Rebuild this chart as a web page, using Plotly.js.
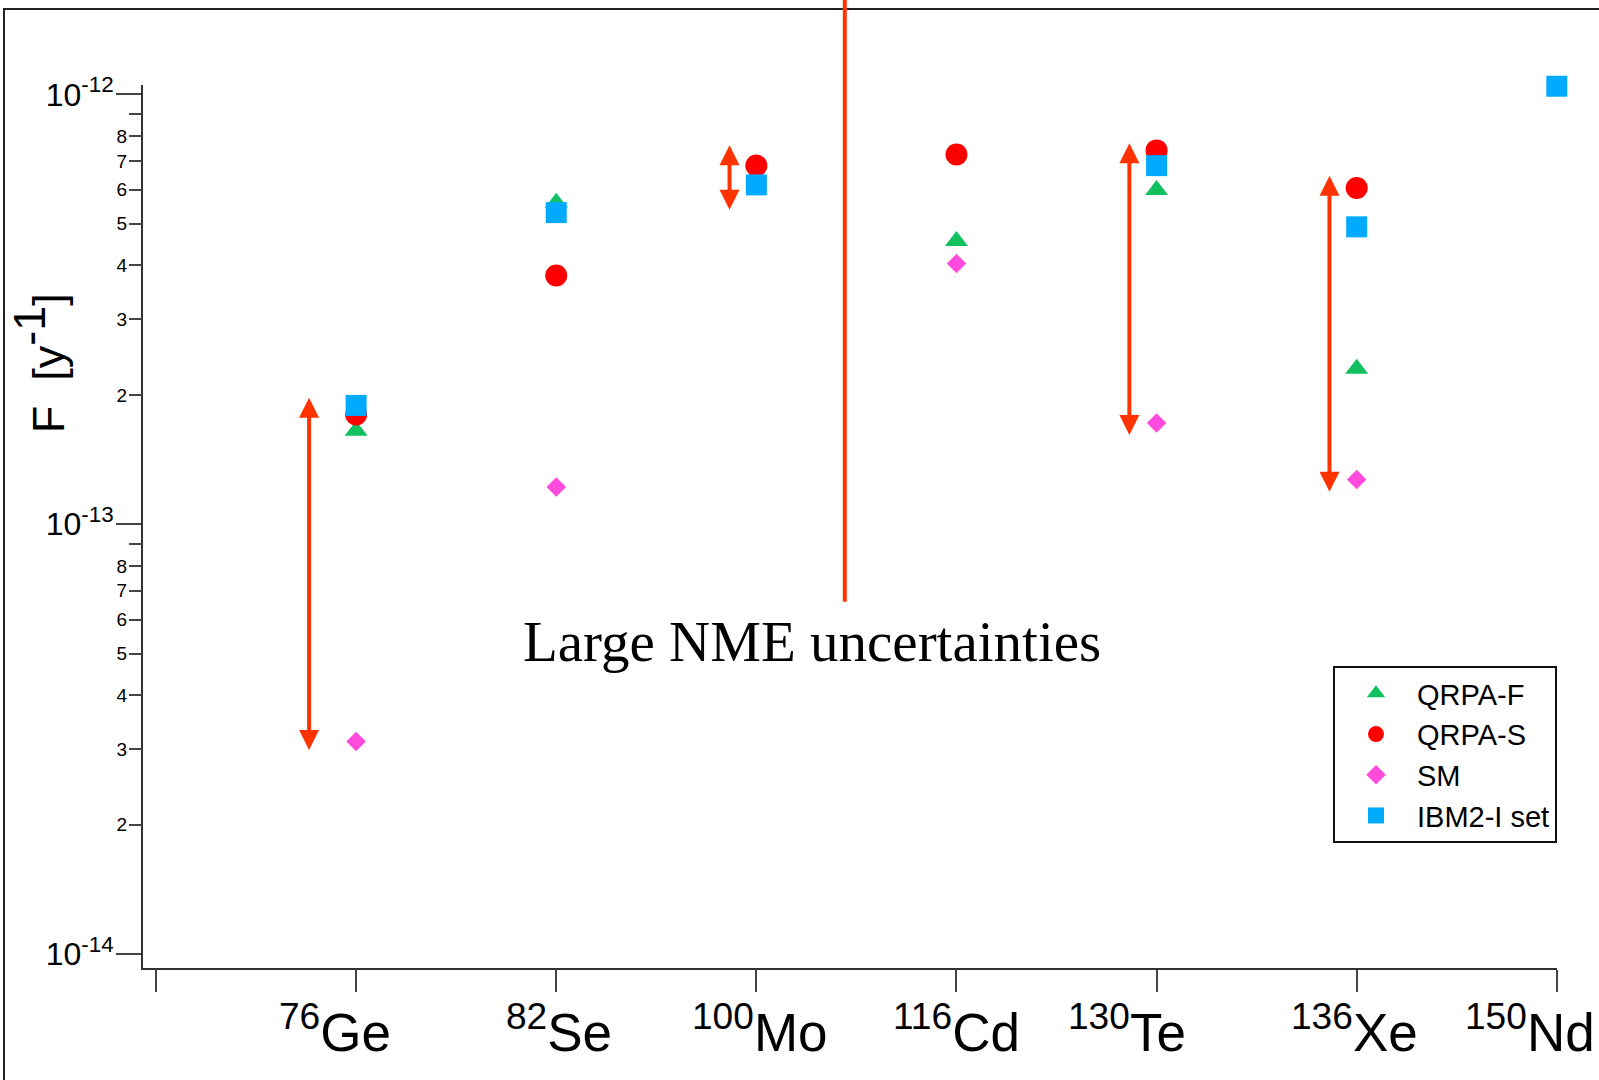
<!DOCTYPE html>
<html><head><meta charset="utf-8">
<script src="https://cdn.plot.ly/plotly-3.0.1.min.js"></script>
<style>html,body{margin:0;padding:0;background:#fff}#chart{width:1599px;height:1080px}</style>
</head><body><div id="chart"></div>
<script>
// ---- data ----
const massNumbers = ['76', '82', '100', '116', '130', '136', '150'];
const elements    = ['Ge', 'Se', 'Mo', 'Cd', 'Te', 'Xe', 'Nd'];

const qrpaF = [1.65e-13, 5.6e-13, null, 4.56e-13, 5.99e-13, 2.30e-13, null];
const qrpaS = [1.80e-13, 3.79e-13, 6.83e-13, 7.25e-13, 7.41e-13, 6.06e-13, null];
const shellModel = [3.12e-14, 1.22e-13, null, 4.04e-13, 1.72e-13, 1.27e-13, null];
const ibm2 = [1.89e-13, 5.31e-13, 6.16e-13, null, 6.83e-13, 4.92e-13, 1.045e-12];

// double-headed uncertainty arrows: x position (category units), low and high tips
const arrowX    = [0.765, 2.866, 4.864, 5.864];
const arrowLow  = [2.96e-14, 5.35e-13, 1.60e-13, 1.18e-13];
const arrowHigh = [1.97e-13, 7.62e-13, 7.70e-13, 6.47e-13];

// vertical marker line and note
const noteLineX = 3.442;
const noteLineLow = 6.6e-14;
const noteText = 'Large NME uncertainties';
const yTitle = 'F\u00a0 [y<sup><span style="font-size:45px">-1</span></sup>]';

const yMajorVals = [1e-14, 1e-13, 1e-12];
const yMinorVals = [2e-14,3e-14,4e-14,5e-14,6e-14,7e-14,8e-14,9e-14,
                    2e-13,3e-13,4e-13,5e-13,6e-13,7e-13,8e-13,9e-13];

// ---- styling ----
const XR = [-0.065, 7.001];
const YR = [-14.0326, -11.978];
const labelShift = [-21, 3, 4, 0, -30, -2, -27]; // px nudges of the isotope labels
const RED = '#ff3300';
const FONT = 'Liberation Sans, Arial, Helvetica, sans-serif';

const xPaper = v => (v - XR[0]) / (XR[1] - XR[0]);
const yPaper = v => (Math.log10(v) - YR[0]) / (YR[1] - YR[0]);

const xs = elements.map((e, i) => i + 1);

function mk(name, y, symbol, color, size) {
  return {
    type: 'scatter', mode: 'markers', name: name, x: xs, y: y,
    cliponaxis: false,
    marker: {symbol: symbol, color: color, size: size, line: {width: 0}}
  };
}

const traces = [
  mk('QRPA-F', qrpaF, 'triangle-up', '#12c060', 20),
  mk('QRPA-S', qrpaS, 'circle', '#ff0000', 22),
  mk('SM', shellModel, 'diamond', '#ff4ade', 15),
  mk('IBM2-I set', ibm2, 'square', '#00aaff', 21),
  // carrier so the secondary (minor-tick) axis is drawn
  {type: 'scatter', mode: 'markers', x: [], y: [], yaxis: 'y2', showlegend: false, hoverinfo: 'skip'}
];

const annotations = arrowX.map((x, i) => ({
  xref: 'x', yref: 'y', axref: 'x', ayref: 'y',
  x: x, y: Math.log10(arrowHigh[i]), ax: x, ay: Math.log10(arrowLow[i]),
  text: '', showarrow: true, arrowside: 'end+start',
  arrowhead: 2, startarrowhead: 2, arrowsize: 1, startarrowsize: 1,
  arrowwidth: 4, arrowcolor: RED, standoff: 0, startstandoff: 0
}));
// isotope labels under the category ticks
elements.forEach((e, i) => annotations.push({
  xref: 'x', yref: 'paper', x: xs[i], y: 0, xanchor: 'center', yanchor: 'top',
  xshift: labelShift[i], yshift: -25, showarrow: false,
  text: '<sup>' + massNumbers[i] + '</sup>' + e,
  font: {family: FONT, size: 53, color: '#000'}
}));
annotations.push({
  xref: 'x', yref: 'paper', x: 3.28, y: 0.3702, xanchor: 'center', yanchor: 'middle',
  text: noteText, showarrow: false,
  font: {family: 'Liberation Serif, Times New Roman, serif', size: 57, color: '#000'}
});
annotations.push({
  xref: 'paper', yref: 'paper', x: -0.0738, y: 0.6844, xanchor: 'center', yanchor: 'middle',
  text: yTitle, textangle: -90, showarrow: false,
  font: {family: FONT, size: 45, color: '#000'}
});

const shapes = [
  {type: 'rect', xref: 'paper', yref: 'paper', x0: -0.0983, x1: 1.2, y0: -0.3, y1: 1.0861,
   line: {color: '#222', width: 2}, fillcolor: 'rgba(0,0,0,0)', layer: 'below'},
  {type: 'line', xref: 'paper', yref: 'paper',
   x0: xPaper(noteLineX), x1: xPaper(noteLineX), y0: yPaper(noteLineLow), y1: 1.2,
   line: {color: RED, width: 4}}
];

const layout = {
  width: 1599, height: 1080,
  margin: {l: 143, r: 42, t: 85, b: 112},
  paper_bgcolor: '#fff', plot_bgcolor: '#fff',
  font: {family: FONT, color: '#000'},
  showlegend: true,
  legend: {x: 1, xanchor: 'right', y: 0.342, yanchor: 'top',
           bgcolor: '#fff', bordercolor: '#111', borderwidth: 2,
           font: {family: FONT, size: 29, color: '#000'}, itemwidth: 72,
           tracegroupgap: 0},
  xaxis: {
    range: XR, showgrid: false, zeroline: false, showline: true,
    linecolor: '#333', linewidth: 2, ticks: 'outside', ticklen: 22, tickwidth: 2,
    tickcolor: '#444', tickmode: 'array', tickvals: [0].concat(xs),
    showticklabels: false, automargin: false
  },
  yaxis: {
    type: 'log', range: YR, showgrid: false, zeroline: false, showline: true,
    linecolor: '#333', linewidth: 2, ticks: 'outside', ticklen: 25, tickwidth: 2,
    tickcolor: '#444', tickmode: 'array', tickvals: yMajorVals,
    ticktext: yMajorVals.map(v => '10<sup>' + Math.round(Math.log10(v)) + '</sup>'),
    tickfont: {family: FONT, size: 32, color: '#000'}, automargin: false,
    ticklabeloverflow: 'allow', ticklabelstandoff: -4
  },
  yaxis2: {
    type: 'log', range: YR, overlaying: 'y', side: 'left', anchor: 'x',
    showgrid: false, zeroline: false, showline: false,
    ticks: 'outside', ticklen: 13, tickwidth: 2, tickcolor: '#444',
    tickmode: 'array', tickvals: yMinorVals,
    ticktext: yMinorVals.map(v => { const d = Math.round(v / Math.pow(10, Math.floor(Math.log10(v) + 1e-9))); return d === 9 ? '' : String(d); }),
    tickfont: {family: FONT, size: 19, color: '#000'}, automargin: false,
    ticklabeloverflow: 'allow', ticklabelstandoff: -2
  },
  annotations: annotations,
  shapes: shapes,
  hovermode: false
};

Plotly.newPlot('chart', traces, layout, {displayModeBar: false, staticPlot: true});
</script>
</body></html>
